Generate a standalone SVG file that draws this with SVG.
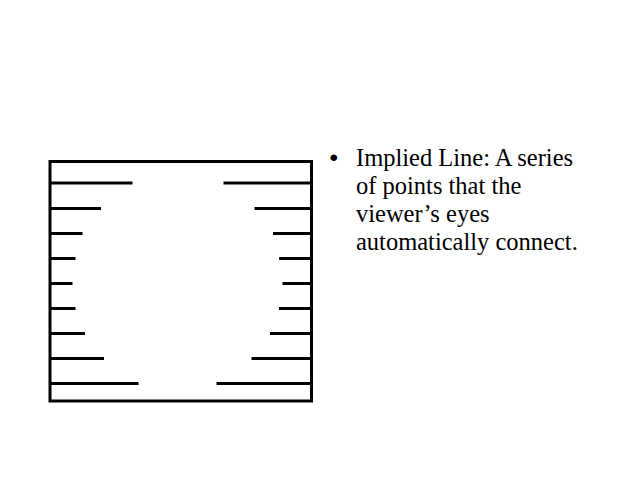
<svg xmlns="http://www.w3.org/2000/svg" width="638" height="479" viewBox="0 0 638 479">
<style>
.ln{stroke:#000;stroke-width:3;fill:none}
.t{font-family:"Liberation Serif","Times New Roman",serif;font-size:24.5px;fill:#000}
.b{font-family:"Liberation Sans",Arial,sans-serif;font-size:24.5px;fill:#000}
</style>
<rect width="638" height="479" fill="#fff"/>
<g id="box">
<rect class="ln" x="50" y="161.5" width="261.5" height="239.5"/>
</g>
<g id="lines">
<path class="ln" d="M50 183H132.5M50 208.5H101M50 233.5H82.5M50 258.5H75.5M50 283.5H72.5M50 308.5H75.5M50 333.5H85M50 358.5H104M50 383.5H138.5"/>
<path class="ln" d="M311.5 183H223.5M311.5 208.5H254.5M311.5 233.5H273M311.5 258.5H279M311.5 283.5H282.5M311.5 308.5H279M311.5 333.5H270M311.5 358.5H251.5M311.5 383.5H216.5"/>
</g>
<g id="text">
<text class="b" x="329.5" y="166">•</text>
<text class="t" x="356" y="166">Implied Line: A series</text>
<text class="t" x="356" y="194">of points that the</text>
<text class="t" x="356" y="222">viewer’s eyes</text>
<text class="t" x="356" y="250">automatically connect.</text>
</g>
</svg>
